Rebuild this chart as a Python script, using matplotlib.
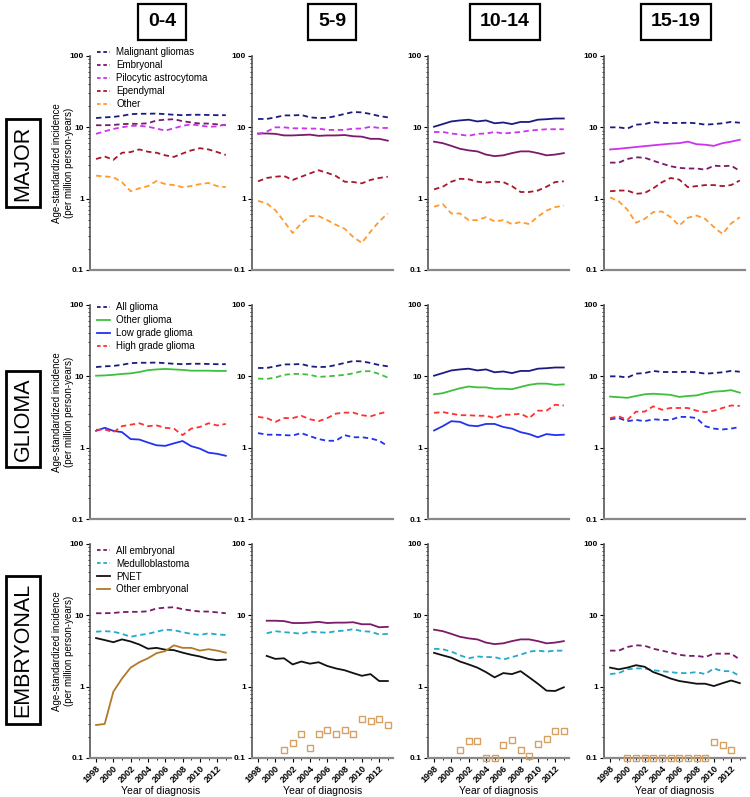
import numpy as np
import matplotlib
matplotlib.use("Agg")
import matplotlib.pyplot as plt
from matplotlib.lines import Line2D

plt.rcParams['font.family'] = ['Liberation Sans', 'DejaVu Sans']

nan = np.nan
years = list(range(1998, 2014))
age_groups = ['0-4', '5-9', '10-14', '15-19']
row_names = ['MAJOR', 'GLIOMA', 'EMBRYONAL']

# --- MAJOR row (one list per age group) ---
malignant_gliomas = [
    [13.5, 13.8, 14.0, 14.5, 15.3, 15.5, 15.5, 15.6, 15.3, 15.0, 14.8, 15.0, 15.0, 14.9, 14.8, 14.8],
    [13.1, 13.1, 13.8, 14.7, 14.7, 14.9, 13.8, 13.5, 13.6, 14.4, 15.4, 16.4, 16.2, 15.4, 14.4, 13.8],
    [10.2, 11.1, 12.1, 12.5, 12.8, 12.1, 12.5, 11.4, 11.7, 11.1, 11.9, 11.9, 12.8, 13.0, 13.3, 13.3],
    [10.0, 10.0, 9.6, 10.9, 11.1, 11.9, 11.5, 11.5, 11.5, 11.6, 11.4, 10.9, 11.1, 11.4, 11.9, 11.6],
]
embryonal = [
    [10.7, 10.7, 10.8, 11.1, 11.2, 11.2, 11.4, 12.5, 12.8, 13.0, 12.2, 11.7, 11.3, 11.3, 11.0, 10.7],
    [8.2, 8.2, 8.1, 7.7, 7.7, 7.8, 7.9, 7.6, 7.7, 7.7, 7.8, 7.5, 7.4, 6.9, 6.9, 6.5],
    [6.3, 6.0, 5.5, 5.0, 4.75, 4.6, 4.15, 3.95, 4.05, 4.35, 4.6, 4.6, 4.35, 4.05, 4.15, 4.35],
    [3.2, 3.2, 3.6, 3.8, 3.75, 3.4, 3.1, 2.85, 2.7, 2.65, 2.65, 2.55, 2.9, 2.85, 2.9, 2.45],
]
pilocytic = [
    [8.1, 8.8, 9.5, 10.0, 10.5, 10.5, 10.2, 9.6, 9.0, 9.7, 10.5, 11.0, 10.6, 10.2, 10.3, 11.0],
    [8.0, 8.7, 10.0, 10.0, 9.7, 9.7, 9.6, 9.6, 9.2, 9.2, 9.2, 9.6, 9.6, 10.2, 9.8, 9.8],
    [8.6, 8.6, 8.2, 7.9, 7.6, 8.1, 8.2, 8.6, 8.2, 8.4, 8.6, 9.0, 9.2, 9.4, 9.4, 9.4],
    [4.9, 5.0, 5.15, 5.3, 5.45, 5.6, 5.75, 5.9, 6.0, 6.3, 5.8, 5.7, 5.5, 6.0, 6.3, 6.7],
]
ependymal = [
    [3.6, 3.9, 3.5, 4.4, 4.5, 4.9, 4.55, 4.4, 4.05, 3.85, 4.3, 4.75, 5.1, 4.9, 4.5, 4.1],
    [1.75, 1.95, 2.03, 2.08, 1.83, 2.03, 2.26, 2.5, 2.3, 2.08, 1.73, 1.71, 1.64, 1.83, 1.95, 2.03],
    [1.35, 1.47, 1.73, 1.9, 1.87, 1.73, 1.68, 1.73, 1.71, 1.5, 1.24, 1.24, 1.3, 1.47, 1.71, 1.75],
    [1.27, 1.3, 1.3, 1.17, 1.2, 1.4, 1.7, 1.95, 1.85, 1.45, 1.5, 1.55, 1.55, 1.5, 1.55, 1.8],
]
other = [
    [2.1, 2.05, 2.0, 1.7, 1.27, 1.4, 1.5, 1.77, 1.6, 1.55, 1.45, 1.5, 1.6, 1.66, 1.5, 1.45],
    [0.93, 0.86, 0.69, 0.48, 0.33, 0.45, 0.57, 0.57, 0.5, 0.43, 0.38, 0.29, 0.24, 0.345, 0.48, 0.62],
    [0.77, 0.84, 0.62, 0.62, 0.5, 0.5, 0.55, 0.48, 0.5, 0.44, 0.47, 0.44, 0.56, 0.68, 0.76, 0.8],
    [1.04, 0.92, 0.7, 0.46, 0.52, 0.65, 0.66, 0.55, 0.42, 0.54, 0.58, 0.52, 0.4, 0.32, 0.45, 0.55],
]

# --- GLIOMA row ---
all_glioma = malignant_gliomas
other_glioma = [
    [10.2, 10.3, 10.5, 10.8, 11.0, 11.5, 12.2, 12.5, 12.7, 12.5, 12.3, 12.0, 12.0, 12.0, 11.9, 11.9],
    [9.3, 9.2, 9.6, 10.5, 10.8, 10.8, 10.5, 9.8, 10.0, 10.2, 10.5, 11.0, 11.8, 11.8, 10.8, 9.6],
    [5.6, 5.8, 6.3, 6.8, 7.2, 7.0, 7.0, 6.7, 6.7, 6.6, 7.1, 7.6, 7.9, 7.9, 7.6, 7.7],
    [5.2, 5.1, 5.0, 5.3, 5.6, 5.7, 5.6, 5.5, 5.15, 5.3, 5.4, 5.8, 6.1, 6.2, 6.4, 5.9],
]
low_grade = [
    [1.72, 1.9, 1.72, 1.65, 1.32, 1.3, 1.18, 1.08, 1.06, 1.15, 1.24, 1.05, 0.97, 0.85, 0.82, 0.77],
    [1.6, 1.52, 1.52, 1.5, 1.48, 1.6, 1.45, 1.32, 1.25, 1.25, 1.5, 1.4, 1.4, 1.35, 1.25, 1.05],
    [1.74, 2.0, 2.35, 2.3, 2.05, 2.0, 2.15, 2.15, 1.95, 1.85, 1.65, 1.55, 1.4, 1.55, 1.5, 1.52],
    [2.5, 2.6, 2.35, 2.45, 2.35, 2.5, 2.45, 2.45, 2.7, 2.7, 2.6, 2.0, 1.85, 1.8, 1.85, 1.95],
]
high_grade = [
    [1.78, 1.8, 1.65, 2.0, 2.1, 2.2, 2.0, 2.05, 1.9, 1.85, 1.5, 1.85, 1.95, 2.2, 2.05, 2.15],
    [2.7, 2.6, 2.3, 2.6, 2.6, 2.8, 2.5, 2.35, 2.6, 3.0, 3.1, 3.1, 2.85, 2.75, 3.0, 3.2],
    [3.08, 3.15, 3.0, 2.85, 2.85, 2.8, 2.8, 2.6, 2.9, 2.9, 3.0, 2.6, 3.3, 3.3, 4.0, 3.9],
    [2.6, 2.75, 2.45, 3.2, 3.2, 3.8, 3.4, 3.6, 3.6, 3.6, 3.3, 3.15, 3.3, 3.6, 3.9, 3.85],
]

# --- EMBRYONAL row ---
all_embryonal = [
    embryonal[0],
    [nan, 8.4, 8.4, 8.3, 7.8, 7.8, 7.9, 8.1, 7.8, 7.9, 7.9, 8.0, 7.5, 7.5, 6.8, 6.9],
    embryonal[2],
    [3.2, 3.2, 3.6, 3.8, 3.75, 3.4, 3.2, 3.0, 2.8, 2.7, 2.7, 2.6, 2.9, 2.9, 2.9, 2.4],
]
medulloblastoma = [
    [5.9, 6.0, 5.9, 5.5, 5.0, 5.3, 5.5, 5.9, 6.3, 6.2, 5.8, 5.5, 5.3, 5.6, 5.4, 5.3],
    [nan, 5.6, 6.0, 5.8, 5.7, 5.5, 5.9, 5.8, 5.7, 6.0, 6.1, 6.4, 6.0, 5.9, 5.4, 5.5],
    [3.4, 3.35, 3.1, 2.75, 2.5, 2.65, 2.6, 2.6, 2.4, 2.6, 2.8, 3.1, 3.2, 3.1, 3.2, 3.2],
    [1.5, 1.55, 1.75, 1.8, 1.8, 1.7, 1.65, 1.6, 1.55, 1.55, 1.6, 1.5, 1.8, 1.65, 1.65, 1.4],
]
pnet = [
    [4.8, 4.5, 4.2, 4.6, 4.3, 3.9, 3.4, 3.5, 3.3, 3.25, 3.0, 2.8, 2.65, 2.45, 2.35, 2.4],
    [nan, 2.7, 2.45, 2.5, 2.05, 2.25, 2.1, 2.2, 1.95, 1.8, 1.7, 1.55, 1.42, 1.5, 1.2, 1.2],
    [2.98, 2.75, 2.55, 2.25, 2.05, 1.85, 1.6, 1.35, 1.55, 1.5, 1.65, 1.35, 1.1, 0.88, 0.87, 0.98],
    [1.85, 1.75, 1.85, 2.0, 1.9, 1.6, 1.45, 1.3, 1.2, 1.15, 1.1, 1.1, 1.02, 1.12, 1.22, 1.12],
]
other_embryonal = [
    [0.29, 0.30, 0.85, 1.3, 1.85, 2.2, 2.5, 2.95, 3.15, 3.8, 3.5, 3.5, 3.2, 3.35, 3.2, 3.0],
    [nan, nan, nan, 0.13, 0.16, 0.215, 0.14, 0.22, 0.245, 0.22, 0.245, 0.22, 0.35, 0.325, 0.35, 0.29],
    [nan, nan, nan, 0.128, 0.175, 0.175, 0.1, 0.1, 0.154, 0.18, 0.13, 0.105, 0.159, 0.185, 0.237, 0.237],
    [nan, nan, 0.1, 0.1, 0.1, 0.1, 0.1, 0.1, 0.1, 0.1, 0.1, 0.1, 0.17, 0.15, 0.128, nan],
]

# series per row: (label, data, colour, style per age group: 0 dashed, 1 solid, 2 open squares)
rows = [
    [
        ('Malignant gliomas', malignant_gliomas, '#1c1c80', [0, 0, 1, 0]),
        ('Embryonal', embryonal, '#7a1a6a', [0, 1, 1, 0]),
        ('Pilocytic astrocytoma', pilocytic, '#cc33ee', [0, 0, 0, 1]),
        ('Ependymal', ependymal, '#a8182a', [0, 0, 0, 0]),
        ('Other', other, '#ff9a2e', [0, 0, 0, 0]),
    ],
    [
        ('All glioma', all_glioma, '#1c1c80', [0, 0, 1, 0]),
        ('Other glioma', other_glioma, '#3ec03e', [1, 0, 1, 1]),
        ('Low grade glioma', low_grade, '#2233ee', [1, 0, 1, 0]),
        ('High grade glioma', high_grade, '#ff3030', [0, 0, 0, 0]),
    ],
    [
        ('All embryonal', all_embryonal, '#7a1a6a', [0, 1, 1, 0]),
        ('Medulloblastoma', medulloblastoma, '#22aacc', [0, 0, 0, 0]),
        ('PNET', pnet, '#111111', [1, 1, 1, 1]),
        ('Other embryonal', other_embryonal, '#b07a28', [1, 2, 2, 2]),
    ],
]

W, H = 750, 797
fig = plt.figure(figsize=(W / 100, H / 100), dpi=100)

col_left = [90, 252, 428, 604]
row_top = [56, 305, 544]
legend_y = [1.058, 1.03, 1.01]
ax_w, ax_h = 141, 214

for r, series in enumerate(rows):
    for c in range(4):
        ax = fig.add_axes([col_left[c] / W, 1 - (row_top[r] + ax_h) / H, ax_w / W, ax_h / H])
        handles = []
        for label, data, color, style in series:
            y = np.array(data[c], dtype=float)
            if style[c] == 2:
                ax.plot(years, y, ls='none', marker='s', ms=3.8, mfc='none',
                        mec='#d6a062', mew=1.0, clip_on=False, zorder=3)
            elif style[c] == 1:
                ax.plot(years, y, color=color, lw=1.3)
            else:
                ax.plot(years, y, color=color, lw=1.3, ls=(0, (3, 2)))
            # legend follows the 0-4 panel style
            hs = '-' if style[0] == 1 else (0, (2, 1.5))
            handles.append(Line2D([], [], color=color, lw=1.3, ls=hs))

        ax.set_yscale('log')
        ax.set_ylim(0.1, 100)
        ax.set_xlim(1997.3, 2013.6)
        ax.set_yticks([0.1, 1, 10, 100])
        ax.set_yticklabels(['0.1', '1', '10', '100'], fontsize=6, fontweight='bold')
        ax.tick_params(axis='y', which='major', length=3, width=0.8, pad=1.5)
        ax.tick_params(axis='y', which='minor', length=1.5, width=0.6)
        for s in ['top', 'right']:
            ax.spines[s].set_visible(False)
        ax.spines['left'].set_color('#555555')
        ax.spines['bottom'].set_color('#888888')
        ax.spines['left'].set_linewidth(1.2)
        ax.spines['bottom'].set_linewidth(1.6)

        if r == 2:
            ax.set_xticks(range(1998, 2014, 2))
            ax.set_xticks(range(1999, 2014, 2), minor=True)
            ax.set_xticklabels([str(v) for v in range(1998, 2014, 2)], rotation=45,
                               ha='right', rotation_mode='anchor', fontsize=6.5, fontweight='bold')
            ax.tick_params(axis='x', which='major', length=3, width=0.8, pad=1)
            ax.tick_params(axis='x', which='minor', length=1.5, width=0.6)
            ax.set_xlabel('Year of diagnosis', fontsize=7.5, labelpad=1)
        else:
            ax.tick_params(axis='x', which='both', bottom=False, labelbottom=False)

        if c == 0:
            ax.set_ylabel('Age-standardized incidence\n(per million person-years)',
                          fontsize=7)
            ax.yaxis.set_label_coords(-0.115, 0.5)
            ax.legend(handles, [s[0] for s in series], loc='upper left',
                      bbox_to_anchor=(0.02, legend_y[r]), frameon=False, fontsize=7,
                      handlelength=1.4, handletextpad=0.6, labelspacing=0.3,
                      borderaxespad=0)

# column headers
head_x = [162, 332, 505, 676]
for x, txt in zip(head_x, age_groups):
    fig.text(x / W, 1 - 22 / H, txt, ha='center', va='center', fontsize=14,
             fontweight='bold',
             bbox=dict(boxstyle='square,pad=0.5', fc='white', ec='black', lw=1.6))

# row labels
row_y = [163, 419, 650]
for y, txt in zip(row_y, row_names):
    fig.text(23 / W, 1 - y / H, txt, ha='center', va='center', rotation=90,
             fontsize=15.5,
             bbox=dict(boxstyle='square,pad=0.3', fc='white', ec='black', lw=2))

fig.savefig('out.png', dpi=100)
